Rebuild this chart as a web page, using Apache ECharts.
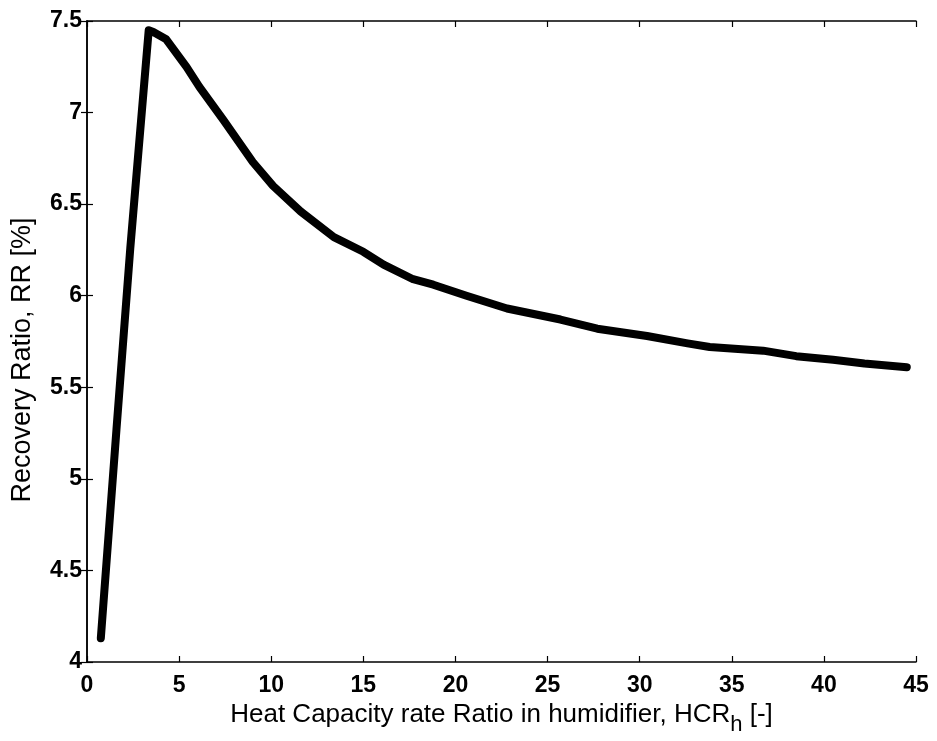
<!DOCTYPE html>
<html>
<head>
<meta charset="utf-8">
<script src="https://cdn.jsdelivr.net/npm/echarts@6/dist/echarts.min.js"></script>
<style>
  html, body { margin: 0; padding: 0; background: #fff; }
  #chart { width: 937px; height: 741px; }
</style>
</head>
<body>
<div id="chart"></div>
<script>
// Heat capacity rate ratio in the humidifier, HCR_h [-]
const hcrValues = [0.75, 1.6, 2.35, 3.35, 3.6, 4.3, 5.4, 6.1, 7.4, 9.0, 10.1, 11.6, 13.4, 15.0,
  16.1, 17.7, 18.8, 20.6, 22.8, 25.7, 27.7, 30.4, 32.6, 33.8, 36.7, 38.5, 40.5, 42.2, 44.5];
// Recovery ratio, RR [%]
const rrValues = [4.13, 5.27, 6.26, 7.45, 7.44, 7.40, 7.25, 7.14, 6.96, 6.73, 6.60, 6.46, 6.32, 6.24,
  6.17, 6.09, 6.06, 6.00, 5.93, 5.87, 5.82, 5.78, 5.74, 5.72, 5.70, 5.67, 5.65, 5.63, 5.61];

const xTicks = { min: 0, max: 45, interval: 5 };
const yTicks = { min: 4, max: 7.5, interval: 0.5 };

const FONT = 'Liberation Sans, Arial, Helvetica, sans-serif';
const axisLine = { show: true, lineStyle: { color: '#000', width: 1.5 } };
const tickStyle = { show: true, inside: true, length: 6, lineStyle: { color: '#000', width: 1.2 } };
const labelStyle = { color: '#000', fontFamily: FONT, fontSize: 23, fontWeight: 'bold' };

const chart = echarts.init(document.getElementById('chart'), null, { renderer: 'canvas' });

chart.setOption({
  animation: false,
  backgroundColor: '#fff',
  grid: { left: 87, right: 21, top: 21, bottom: 75, containLabel: false },
  xAxis: [
    {
      type: 'value', position: 'bottom', ...xTicks,
      axisLine, axisTick: tickStyle, splitLine: { show: false },
      axisLabel: { ...labelStyle, margin: 12 },
      name: 'Heat Capacity rate Ratio in humidifier, HCR{sub|h} [-]',
      nameLocation: 'middle', nameGap: 32,
      nameTextStyle: {
        color: '#000', fontFamily: FONT, fontSize: 26,
        rich: { sub: { color: '#000', fontFamily: FONT, fontSize: 22, padding: [20, 0, 0, 0] } }
      }
    },
    {
      type: 'value', position: 'top', ...xTicks,
      axisLine, axisTick: tickStyle, splitLine: { show: false },
      axisLabel: { show: false }
    }
  ],
  yAxis: [
    {
      type: 'value', position: 'left', ...yTicks,
      axisLine, axisTick: tickStyle, splitLine: { show: false },
      axisLabel: { ...labelStyle, margin: 5 }
    },
    {
      type: 'value', position: 'right', ...yTicks,
      axisLine, axisTick: tickStyle, splitLine: { show: false },
      axisLabel: { show: false }
    }
  ],
  graphic: [
    {
      type: 'text', x: 23, y: 360, rotation: Math.PI / 2,
      style: {
        text: 'Recovery Ratio, RR [%]', fill: '#000',
        font: '27px ' + FONT, textAlign: 'center', textVerticalAlign: 'middle'
      }
    }
  ],
  series: [
    {
      type: 'line',
      xAxisIndex: 0, yAxisIndex: 0,
      data: hcrValues.map((x, i) => [x, rrValues[i]]),
      showSymbol: false, smooth: false,
      lineStyle: { color: '#000', width: 8, cap: 'round', join: 'round' }
    }
  ]
});
</script>
</body>
</html>
